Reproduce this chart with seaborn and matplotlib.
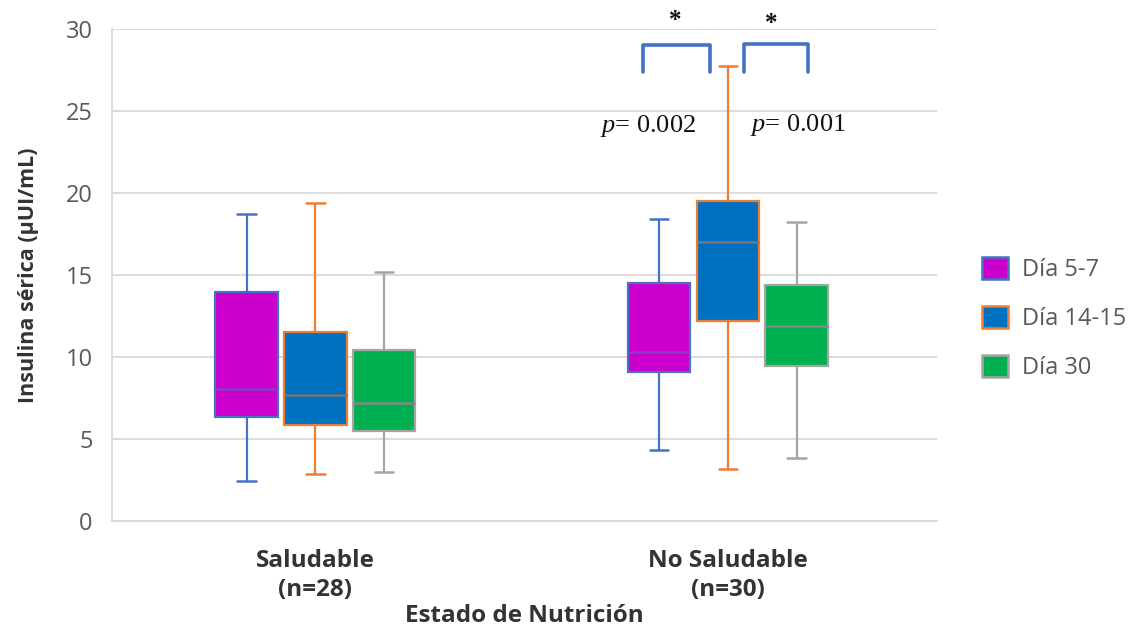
import numpy as np
import pandas as pd
import matplotlib
matplotlib.use("Agg")
import matplotlib.pyplot as plt
from matplotlib.patches import Patch
import seaborn as sns

# ---------------- data ----------------
categories = ["Saludable\n(n=28)", "No Saludable\n(n=30)"]
series = ["Día 5-7", "Día 14-15", "Día 30"]
# five-number summaries per category: [min, Q1, median, Q3, max]
dia_5_7 = [[2.46, 6.32, 8.06, 13.94, 18.70], [4.31, 9.08, 10.29, 14.50, 18.40]]
dia_14_15 = [[2.84, 5.85, 7.68, 11.54, 19.40], [3.19, 12.18, 17.02, 19.50, 27.75]]
dia_30 = [[2.99, 5.47, 7.22, 10.42, 15.16], [3.82, 9.45, 11.91, 14.37, 18.25]]
y_ticks = [0, 5, 10, 15, 20, 25, 30]
p_labels = ["0.002", "0.001"]

fill_colors = ["#CC00CC", "#0070C0", "#00B050"]
edge_colors = ["#4472C4", "#ED7D31", "#A5A5A5"]
median_colors = ["#8A3CC8", "#76767A", "#7F8A84"]

rows = []
for s, vals in zip(series, [dia_5_7, dia_14_15, dia_30]):
    for c, five in zip(categories, vals):
        for v in five:
            rows.append({"Estado": c, "Serie": s, "Insulina": v})
df = pd.DataFrame(rows)

# ---------------- style ----------------
sns.set_theme(style="white")
plt.rcParams["font.family"] = ["Open Sans", "DejaVu Sans"]
plt.rcParams["mathtext.fontset"] = "custom"
plt.rcParams["mathtext.rm"] = "Liberation Serif"
plt.rcParams["mathtext.it"] = "Liberation Serif:italic"

fig = plt.figure(figsize=(11.42, 6.33), dpi=100)
ax = fig.add_axes([0.0981, 0.1769, 0.8205 - 0.0981, 0.9542 - 0.1769])

sns.boxplot(data=df, x="Estado", y="Insulina", hue="Serie",
            order=categories, hue_order=series, palette=fill_colors,
            saturation=1, width=0.5, gap=0.09, whis=(0, 100),
            linewidth=1.6, capwidths=0.045, legend=False, ax=ax)

for cont, ec, mc in zip(ax.containers, edge_colors, median_colors):
    for b in cont.boxes:
        b.set_edgecolor(ec)
        b.set_linewidth(1.6)
    for m in cont.medians:
        m.set_color(mc)
        m.set_linewidth(1.8)
    for w in cont.whiskers:
        w.set_color(ec)
        w.set_linewidth(1.6)
    for c in cont.caps:
        c.set_color(ec)
        c.set_linewidth(1.8)

ax.set_xlim(-0.493, 1.507)
ax.set_ylim(0, 30)
ax.set_yticks(y_ticks)
ax.set_axisbelow(True)
ax.yaxis.grid(True, color="#D9D9D9", linewidth=1.3)
for side in ["top", "right"]:
    ax.spines[side].set_visible(False)
ax.spines["left"].set_color("#D9D9D9")
ax.spines["left"].set_linewidth(1.3)
ax.spines["bottom"].set_color("#D9D9D9")
ax.spines["bottom"].set_linewidth(1.3)

ax.tick_params(axis="y", length=0, pad=14, labelsize=17, labelcolor="#595959")
ax.tick_params(axis="x", length=0, pad=20, labelsize=17.5, labelcolor="#333333")
for t in ax.get_xticklabels():
    t.set_fontweight("bold")
    t.set_linespacing(1.3)

ax.set_xlabel("Estado de Nutrición", fontsize=17.5, fontweight="bold", color="#333333")
ax.xaxis.set_label_coords(0.5, -0.168)
ax.set_ylabel("Insulina sérica (µUI/mL)", fontsize=15.5, fontweight="bold", color="#333333")
ax.yaxis.set_label_coords(-0.089, 0.5)

# ---------------- significance annotations ----------------
grp = 1  # "No Saludable"
brackets = [(-0.205, -0.043, 29.0), (0.040, 0.195, 29.1)]
for x0, x1, yt in brackets:
    ax.plot([grp + x0, grp + x0, grp + x1, grp + x1], [27.4, yt, yt, 27.4],
            color="#4472C4", lw=2.6, solid_joinstyle="round", solid_capstyle="round")
stars = [(-0.128, 30.5), (0.105, 30.35)]
for sx, sy in stars:
    ax.text(grp + sx, sy, "*", ha="center", va="center", fontsize=18,
            fontweight="bold", family="Liberation Serif", color="#111111",
            clip_on=False)
p_pos = [(-0.194, 24.1), (0.170, 24.15)]
for (px, py), lab in zip(p_pos, p_labels):
    ax.text(grp + px, py, r"$p$= " + lab, ha="center", va="center", fontsize=19,
            family="Liberation Serif", color="#111111")

# ---------------- legend ----------------
handles = [Patch(facecolor=f, edgecolor=e, linewidth=1.8) for f, e in zip(fill_colors, edge_colors)]
fig.legend(handles, series, loc="center left", bbox_to_anchor=(0.86, 0.497),
           frameon=False, fontsize=17, labelcolor="#595959",
           handlelength=1.1, handleheight=1.1, handletextpad=0.6,
           labelspacing=1.0, borderpad=0, borderaxespad=0)

fig.savefig("out.png", dpi=100)
